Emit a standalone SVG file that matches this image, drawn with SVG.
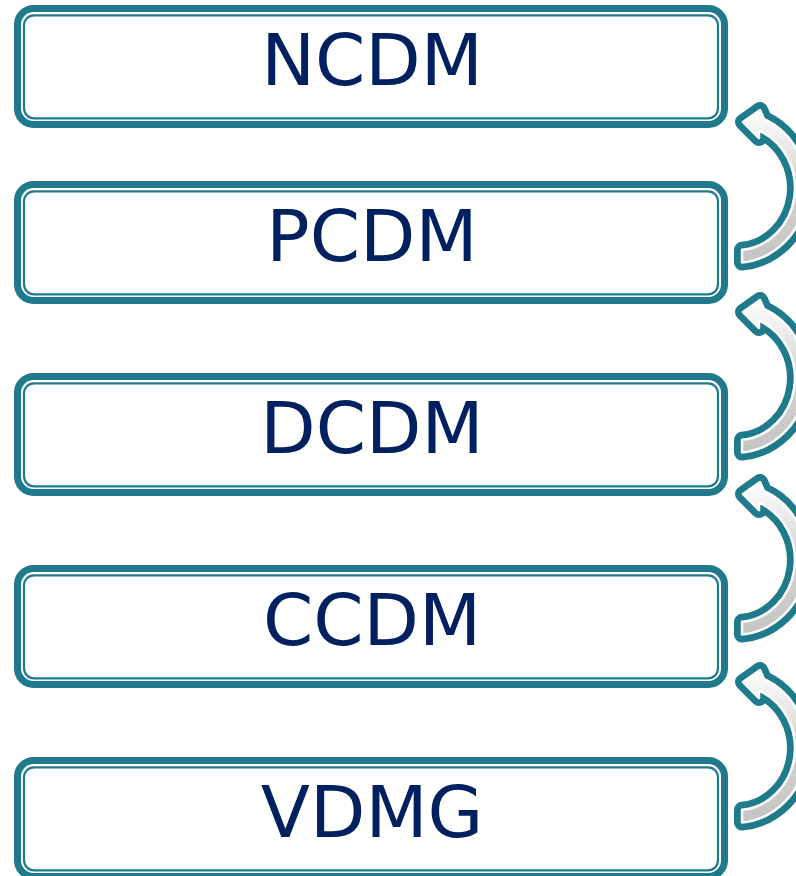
<svg xmlns="http://www.w3.org/2000/svg" width="796" height="876" viewBox="0 0 796 876">
  <style>
    .outer { fill: #FFFFFF; stroke: #1F7A8C; stroke-width: 7; }
    .inner { fill: none; stroke: #1F7A8C; stroke-width: 2.2; }
    .label { font-family: "DejaVu Sans", Verdana, sans-serif; font-size: 72px; fill: #002060; text-anchor: middle; }
    .arr-base { fill: #1F7A8C; stroke: #1F7A8C; stroke-width: 16; stroke-linejoin: round; }
    .arr-top { fill: url(#arrGrad); stroke: #FFFFFF; stroke-width: 2.5; stroke-linejoin: round; }
  </style>
  <defs>
    <linearGradient id="arrGrad" x1="0" y1="1" x2="0" y2="0">
      <stop offset="0" stop-color="#C4C4C4"/>
      <stop offset="0.55" stop-color="#D6D6D6"/>
      <stop offset="1" stop-color="#FFFFFF"/>
    </linearGradient>
  </defs>

  <g id="connectors">
    <g transform="translate(0,0)">
      <path class="arr-base" d="M742,262.5 L742,249.8 A58 62 0 0 0 759,130.7 L759,138 L743,122 L760,110 L764,119 A71 75 0 0 1 742,262.5 Z"/>
      <path class="arr-top" d="M742,262.5 L742,249.8 A58 62 0 0 0 759,130.7 L759,138 L743,122 L760,110 L764,119 A71 75 0 0 1 742,262.5 Z"/>
    </g>
    <g transform="translate(0,190)">
      <path class="arr-base" d="M742,262.5 L742,249.8 A58 62 0 0 0 759,130.7 L759,138 L743,122 L760,110 L764,119 A71 75 0 0 1 742,262.5 Z"/>
      <path class="arr-top" d="M742,262.5 L742,249.8 A58 62 0 0 0 759,130.7 L759,138 L743,122 L760,110 L764,119 A71 75 0 0 1 742,262.5 Z"/>
    </g>
    <g transform="translate(0,372)">
      <path class="arr-base" d="M742,262.5 L742,249.8 A58 62 0 0 0 759,130.7 L759,138 L743,122 L760,110 L764,119 A71 75 0 0 1 742,262.5 Z"/>
      <path class="arr-top" d="M742,262.5 L742,249.8 A58 62 0 0 0 759,130.7 L759,138 L743,122 L760,110 L764,119 A71 75 0 0 1 742,262.5 Z"/>
    </g>
    <g transform="translate(0,560)">
      <path class="arr-base" d="M742,262.5 L742,249.8 A58 62 0 0 0 759,130.7 L759,138 L743,122 L760,110 L764,119 A71 75 0 0 1 742,262.5 Z"/>
      <path class="arr-top" d="M742,262.5 L742,249.8 A58 62 0 0 0 759,130.7 L759,138 L743,122 L760,110 L764,119 A71 75 0 0 1 742,262.5 Z"/>
    </g>
  </g>

  <g id="node-ncdm">
    <rect class="outer" x="17.5" y="8.5" width="707" height="116" rx="16"/>
    <rect class="inner" x="24" y="15.3" width="694" height="103" rx="10"/>
    <text class="label" x="372" y="85">NCDM</text>
  </g>
  <g id="node-pcdm">
    <rect class="outer" x="17.5" y="184.5" width="707" height="116" rx="16"/>
    <rect class="inner" x="24" y="191.3" width="694" height="103" rx="10"/>
    <text class="label" x="372" y="261">PCDM</text>
  </g>
  <g id="node-dcdm">
    <rect class="outer" x="17.5" y="376.5" width="707" height="116" rx="16"/>
    <rect class="inner" x="24" y="383.3" width="694" height="103" rx="10"/>
    <text class="label" x="372" y="453">DCDM</text>
  </g>
  <g id="node-ccdm">
    <rect class="outer" x="17.5" y="568.5" width="707" height="116" rx="16"/>
    <rect class="inner" x="24" y="575.3" width="694" height="103" rx="10"/>
    <text class="label" x="372" y="645">CCDM</text>
  </g>
  <g id="node-vdmg">
    <rect class="outer" x="17.5" y="760.5" width="707" height="116" rx="16"/>
    <rect class="inner" x="24" y="767.3" width="694" height="103" rx="10"/>
    <text class="label" x="372" y="837">VDMG</text>
  </g>
</svg>
